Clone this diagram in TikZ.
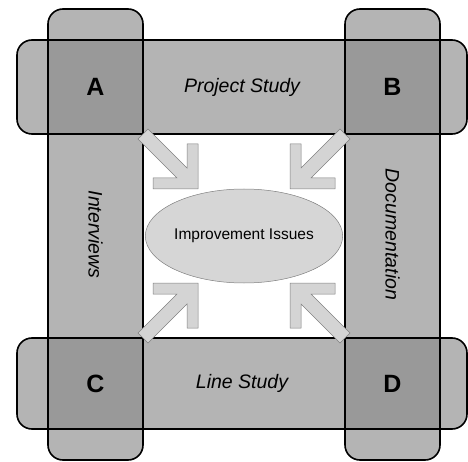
\documentclass[tikz,border=0pt]{standalone}
\usepackage{fontspec}
\setmainfont{Liberation Sans}
\usetikzlibrary{shapes.geometric}
\definecolor{bandgray}{HTML}{B4B4B4}
\definecolor{cornergray}{HTML}{999999}
\definecolor{arrowgray}{HTML}{D4D4D4}
\definecolor{issuegray}{HTML}{D6D6D6}

\begin{document}
\begin{tikzpicture}[x=1pt, y=-1pt,
    band/.style={rectangle, fill=bandgray, rounded corners=15pt, outer sep=0pt, inner sep=0pt},
    edge/.style={draw=black, line width=1.6pt, rounded corners=15pt},
    cornertext/.style={font=\bfseries\fontsize{25}{30}\selectfont},
    bandtext/.style={font=\itshape\fontsize{19.5}{23}\selectfont},
    issue/.style={ellipse, fill=issuegray, draw=gray, line width=0.5pt, minimum width=177pt, minimum height=94pt, inner sep=0pt, font=\fontsize{15.5}{18}\selectfont},
    inarrow/.pic={\draw[fill=arrowgray, draw=gray, line width=0.5pt] (55,55) -- (10,55) -- (10,44) -- (34.1,44) -- (-5,5) -- (5,-5) -- (44,34.1) -- (44,10) -- (55,10) -- cycle;}
]
\useasboundingbox (0,0) rectangle (468,462);

\node[band, minimum width=450pt, minimum height=94pt] (proj) at (242,87) {};
\node[band, minimum width=450pt, minimum height=91pt] (line) at (242,383.5) {};
\node[band, minimum width=95pt, minimum height=451pt] (intv) at (95.5,234.5) {};
\node[band, minimum width=95pt, minimum height=451pt] (docu) at (392.5,234.5) {};

\foreach \v/\h in {intv/proj, docu/proj, intv/line, docu/line}
  \fill[cornergray] (\v.west |- \h.north) rectangle (\v.east |- \h.south);

\foreach \b in {proj,line,intv,docu}
  \draw[edge] (\b.north west) rectangle (\b.south east);

\node[cornertext] (A) at (intv |- proj) {A};
\node[cornertext] (B) at (docu |- proj) {B};
\node[cornertext] (C) at (intv |- line) {C};
\node[cornertext] (D) at (docu |- line) {D};

\node[bandtext] (projtext) at (proj) {Project Study};
\node[bandtext] (linetext) at (line) {Line Study};
\node[bandtext, rotate=-90] (intvtext) at (intv) {Interviews};
\node[bandtext, rotate=-90] (docutext) at (docu) {Documentation};

\node[issue] (issues) at (244,236) {Improvement Issues};

\pic at (intv.east |- proj.south) {inarrow};
\pic[xscale=-1] at (docu.west |- proj.south) {inarrow};
\pic[yscale=-1] at (intv.east |- line.north) {inarrow};
\pic[scale=-1] at (docu.west |- line.north) {inarrow};

\end{tikzpicture}
\end{document}
